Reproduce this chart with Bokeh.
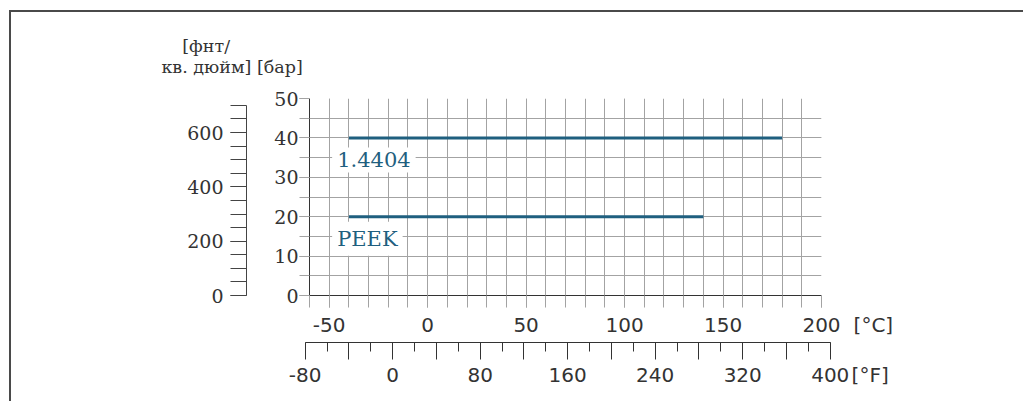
from bokeh.plotting import figure
from bokeh.models import (Range1d, LinearAxis, FixedTicker, Label, ColumnDataSource)
from bokeh.embed import file_html
from bokeh.resources import INLINE

# ---- data ----
materials = ["1.4404", "PEEK"]
t_min_c = [-40, -40]
t_max_c = [180, 140]
pressure_bar = [40, 20]

c_ticks = [-50, 0, 50, 100, 150, 200]
c_minor = list(range(-60, 201, 10))
bar_ticks = [0, 10, 20, 30, 40, 50]
bar_minor = list(range(0, 51, 5))
psi_ticks = [0, 200, 400, 600]
psi_minor = list(range(0, 701, 50))
f_ticks = list(range(-80, 401, 40))
f_minor = list(range(-80, 401, 20))
f_labels = [-80, 0, 80, 160, 240, 320, 400]

TXT = "#333333"
GRID = "#a3a3a3"
SER = "#1f5f7f"
W = 1014
C_LO, C_HI = -60, 200

# ---------------- main chart ----------------
p = figure(width=W, height=331, output_backend="svg", toolbar_location=None,
           x_range=Range1d(C_LO, C_HI), y_range=Range1d(0, 50),
           min_border_left=298, min_border_right=204, min_border_top=86, min_border_bottom=48,
           outline_line_color=None, background_fill_color="white", border_fill_color="white")

p.xgrid.grid_line_color = GRID
p.xgrid.minor_grid_line_color = GRID
p.ygrid.grid_line_color = GRID
p.ygrid.minor_grid_line_color = GRID

xa = p.xaxis[0]
xa.ticker = FixedTicker(ticks=c_ticks, minor_ticks=c_minor)
xa.major_label_overrides = {t: str(t) for t in c_ticks}
xa.axis_line_color = "#333333"
xa.major_tick_line_color = GRID
xa.minor_tick_line_color = GRID
xa.major_tick_in = 0
xa.minor_tick_in = 0
xa.major_tick_out = 12
xa.minor_tick_out = 12
xa.major_label_standoff = 10
xa.major_label_text_font = "DejaVu Sans"
xa.major_label_text_font_size = "20px"
xa.major_label_text_color = TXT

ya = p.yaxis[0]
ya.ticker = FixedTicker(ticks=bar_ticks, minor_ticks=bar_minor)
ya.axis_line_color = "#333333"
ya.major_tick_line_color = GRID
ya.minor_tick_line_color = GRID
ya.major_tick_in = 0
ya.minor_tick_in = 0
ya.major_tick_out = 10
ya.minor_tick_out = 10
ya.major_label_standoff = 1
ya.major_label_text_font = "DejaVu Serif"
ya.major_label_text_font_size = "19px"
ya.major_label_text_color = TXT
ya.axis_label = "\u00a0"
ya.axis_label_text_font_size = "16px"
ya.axis_label_standoff = 5

p.extra_y_ranges = {"psi": Range1d(0, 50 * 14.5038)}
pa = LinearAxis(y_range_name="psi", ticker=FixedTicker(ticks=psi_ticks, minor_ticks=psi_minor),
                bounds=(0, 700))
pa.axis_line_color = "#444444"
pa.major_tick_line_color = "#444444"
pa.minor_tick_line_color = "#444444"
pa.major_tick_in = 0
pa.minor_tick_in = 0
pa.major_tick_out = 16
pa.minor_tick_out = 16
pa.major_label_standoff = 7
pa.major_label_text_font = "DejaVu Serif"
pa.major_label_text_font_size = "19px"
pa.major_label_text_color = TXT
p.add_layout(pa, "left")

src = ColumnDataSource(dict(x0=t_min_c, x1=t_max_c, y=pressure_bar, name=materials))
p.segment(x0="x0", y0="y", x1="x1", y1="y", source=src, line_color=SER, line_width=3,
          line_cap="butt")

for name, t0, pv in zip(materials, t_min_c, pressure_bar):
    p.add_layout(Label(x=t0 - 8.5, y=pv - 5.6, text=name, text_font="DejaVu Serif",
                       text_font_size="21px", text_color=SER, text_baseline="middle",
                       text_align="left", background_fill_color="white", padding=5))

# unit texts, placed in side panels so that they are not clipped to the frame
p.add_layout(Label(x=-124.6, y=63.4, text="[фнт/", text_font="DejaVu Serif",
                   text_font_size="17.5px", text_color=TXT, text_baseline="middle",
                   text_align="left"), "above")
p.add_layout(Label(x=-135.2, y=57.9, text="кв. дюйм] [бар]", text_font="DejaVu Serif",
                   text_font_size="17.5px", text_color=TXT, text_baseline="middle",
                   text_align="left"), "above")
p.add_layout(Label(x=216.3, y=-7.6, text="[°C]", text_font="DejaVu Sans",
                   text_font_size="20px", text_color=TXT, text_baseline="middle",
                   text_align="left"), "right")

# ---------------- Fahrenheit axis (own frame, same scale) ----------------
px_per_c = 512 / (C_HI - C_LO)
fc_lo = C_LO - 20 / px_per_c
fc_hi = C_HI + 20 / px_per_c
fplot = figure(width=W, height=60, output_backend="svg", toolbar_location=None,
               x_range=Range1d(fc_lo * 9 / 5 + 32, fc_hi * 9 / 5 + 32), y_range=Range1d(0, 1),
               min_border_left=278, min_border_right=184, min_border_top=0, min_border_bottom=59,
               outline_line_color=None, background_fill_color="white", border_fill_color="white",
               x_axis_type=None, y_axis_type=None)
fplot.grid.visible = False
fa = LinearAxis(ticker=FixedTicker(ticks=f_ticks, minor_ticks=f_minor), bounds=(-80, 400))
fa.major_label_overrides = {t: (str(t) if t in f_labels else "") for t in f_ticks}
fa.axis_line_color = "#333333"
fa.major_tick_line_color = "#333333"
fa.minor_tick_line_color = "#333333"
fa.major_tick_in = 0
fa.minor_tick_in = 0
fa.major_tick_out = 17
fa.minor_tick_out = 9
fa.major_label_standoff = 8
fa.major_label_text_font = "DejaVu Sans"
fa.major_label_text_font_size = "20px"
fa.major_label_text_color = TXT
fplot.add_layout(fa, "below")
fplot.add_layout(Label(x=419.5, y=-32, text="[°F]", text_font="DejaVu Sans",
                       text_font_size="20px", text_color=TXT, text_baseline="middle",
                       text_align="left"), "right")

p.styles = {"margin-left": "9px", "margin-top": "10px",
            "border-top": "2px solid #4a4a4a", "border-left": "2px solid #4a4a4a"}
fplot.styles = {"margin-left": "9px", "border-left": "2px solid #4a4a4a"}

open("out.html", "w").write(file_html([p, fplot], INLINE))
